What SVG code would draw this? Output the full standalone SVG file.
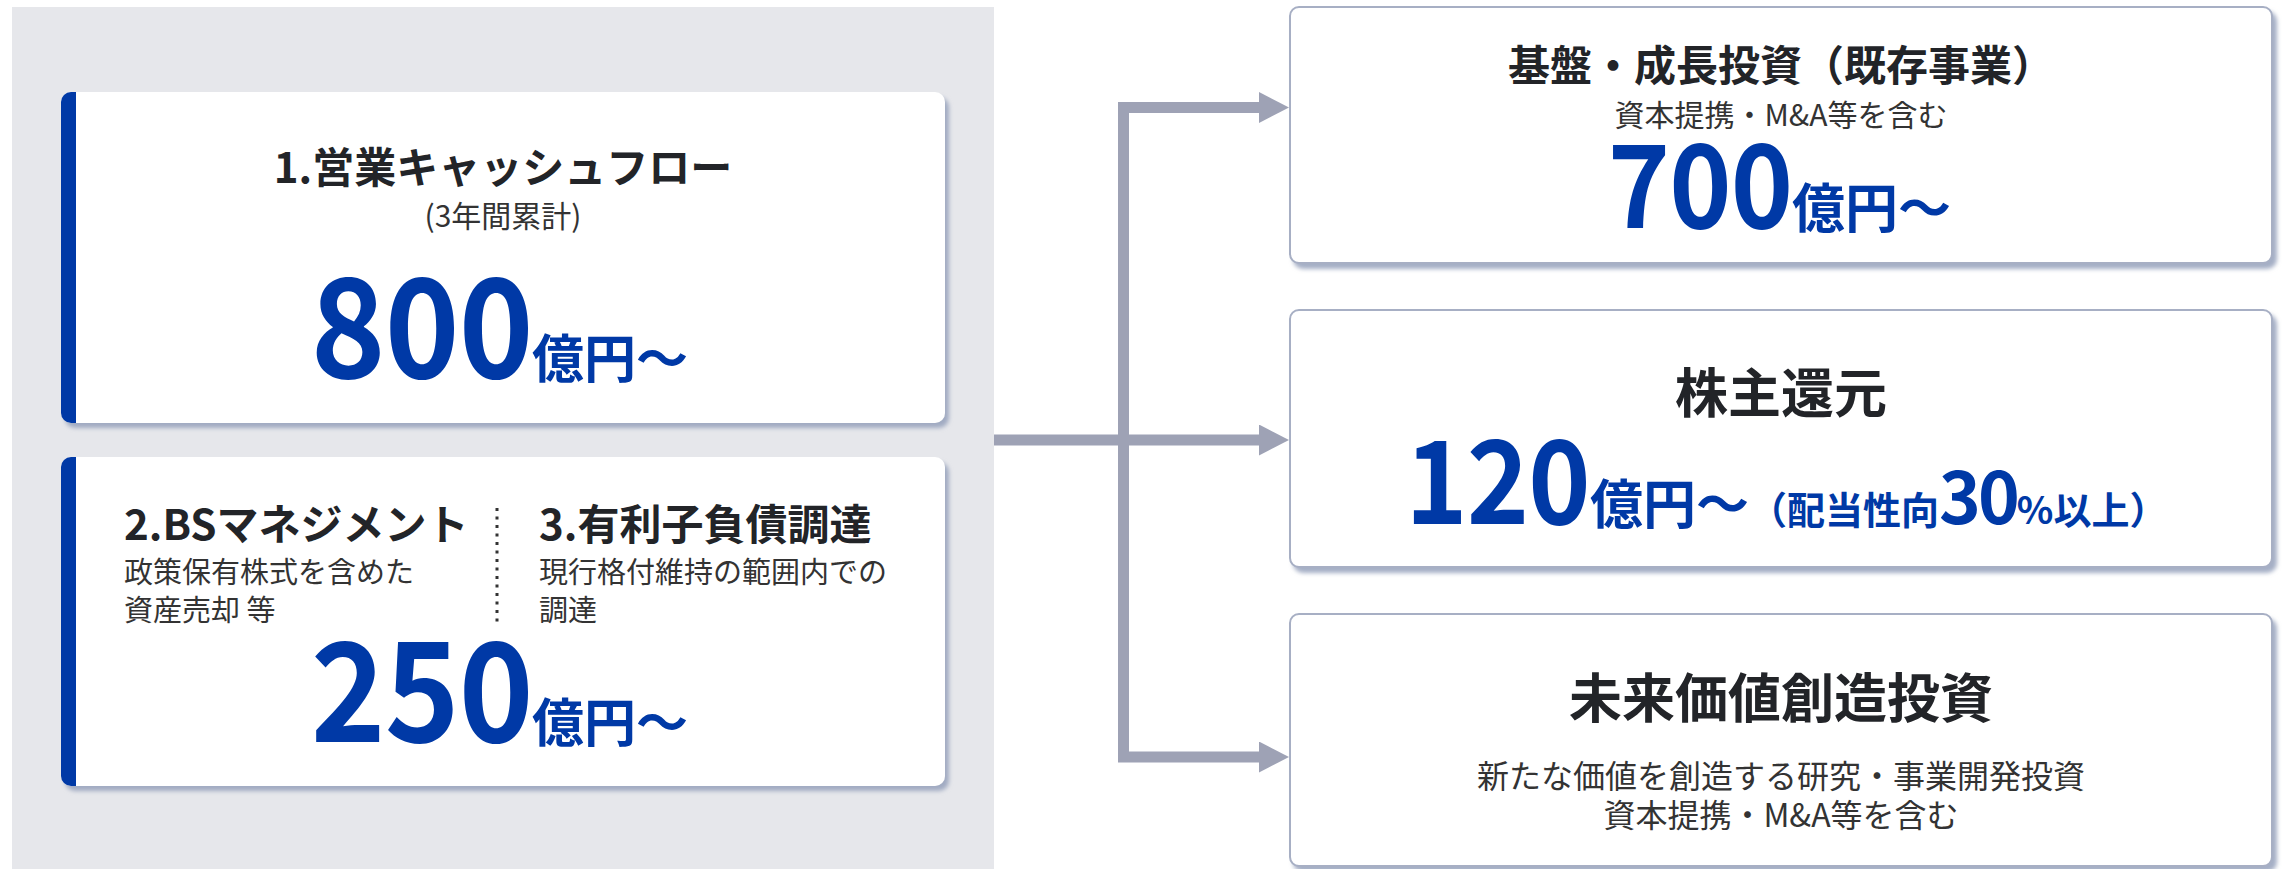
<svg xmlns="http://www.w3.org/2000/svg" width="2282" height="869" viewBox="0 0 2282 869">
<defs>
<style>
.t{font-family:"Noto Sans CJK JP","Noto Sans",sans-serif;}
.ttl{font-weight:700;fill:#222428;}
.sub{font-weight:400;fill:#333;}
.blue{font-weight:700;fill:#0039a6;}
.card{fill:#fff;filter:url(#sh);}
.box{fill:#fff;stroke:#a7afc4;stroke-width:2;filter:url(#sh);}
.bar{fill:#0039a6;}
.conn{fill:none;stroke:#9ea2b5;stroke-width:11;stroke-linejoin:miter;}
.big{font-size:138px;letter-spacing:-1px;}
.mid{font-size:115px;letter-spacing:-1px;}
</style>
<filter id="sh" x="-3%" y="-5%" width="108%" height="115%">
<feDropShadow dx="4" dy="5" stdDeviation="2" flood-color="#94a0bb" flood-opacity="0.85"/>
</filter>
<marker id="ah" markerUnits="userSpaceOnUse" markerWidth="31" markerHeight="32" refX="1" refY="15.5" orient="auto">
<path d="M0,0 L30,15.5 L0,31 Z" fill="#9ea2b5"/>
</marker>
</defs>
<rect x="0" y="0" width="2282" height="869" fill="#fff"/>
<rect id="panel" x="12" y="7" width="982" height="862" fill="#e6e7eb"/>

<g id="connectors">
<path class="conn" d="M1123.5,445 V107.5 H1260" marker-end="url(#ah)"/>
<path class="conn" d="M1123.5,435 V757 H1260" marker-end="url(#ah)"/>
<path class="conn" d="M994,440 H1260" marker-end="url(#ah)"/>
</g>

<g id="card-operating-cf">
<rect class="card" x="61" y="92" width="884" height="331" rx="10"/>
<path class="bar" d="M76,92 H71 A10,10 0 0 0 61,102 V413 A10,10 0 0 0 71,423 H76 Z"/>
<text class="t ttl" x="503" y="183" font-size="42" text-anchor="middle">1.営業キャッシュフロー</text>
<text class="t sub" x="503" y="227" font-size="30" text-anchor="middle">(3年間累計)</text>
<text class="t blue big" transform="scale(0.92,1)" x="579" y="378" text-anchor="end">800</text>
<text class="t blue" x="532" y="378" font-size="52">億円～</text>
</g>

<g id="card-bs-debt">
<rect class="card" x="61" y="457" width="884" height="329" rx="10"/>
<path class="bar" d="M76,457 H71 A10,10 0 0 0 61,467 V776 A10,10 0 0 0 71,786 H76 Z"/>
<text class="t ttl" x="124" y="540" font-size="42">2.BSマネジメント</text>
<text class="t sub" x="124" y="583" font-size="29">政策保有株式を含めた</text>
<text class="t sub" x="124" y="621" font-size="29">資産売却 等</text>
<line x1="497" y1="508" x2="497" y2="624" stroke="#333" stroke-width="3" stroke-dasharray="3 5.5"/>
<text class="t ttl" x="539" y="540" font-size="42">3.有利子負債調達</text>
<text class="t sub" x="539" y="583" font-size="29">現行格付維持の範囲内での</text>
<text class="t sub" x="539" y="621" font-size="29">調達</text>
<text class="t blue big" transform="scale(0.92,1)" x="579" y="742" text-anchor="end">250</text>
<text class="t blue" x="532" y="742" font-size="52">億円～</text>
</g>

<g id="box-base-growth">
<rect class="box" x="1290" y="7" width="982" height="256" rx="9"/>
<text class="t ttl" x="1781" y="81" font-size="42" text-anchor="middle">基盤・成長投資（既存事業）</text>
<text class="t sub" x="1781" y="126" font-size="30" text-anchor="middle">資本提携・M&amp;A等を含む</text>
<text class="t blue mid" transform="scale(0.92,1)" x="1948" y="228" text-anchor="end">700</text>
<text class="t blue" x="1792" y="228" font-size="53">億円～</text>
</g>

<g id="box-shareholder">
<rect class="box" x="1290" y="310" width="982" height="257" rx="9"/>
<text class="t ttl" x="1781" y="413" font-size="53" text-anchor="middle">株主還元</text>
<text class="t blue mid" transform="scale(0.92,1)" x="1728" y="524" text-anchor="end">120</text>
<text class="t blue" x="1590" y="524"><tspan font-size="53">億円～</tspan><tspan font-size="38">（配当性向</tspan><tspan font-size="71" letter-spacing="-3">30</tspan><tspan font-size="38">%以上）</tspan></text>
</g>

<g id="box-future">
<rect class="box" x="1290" y="614" width="982" height="252" rx="9"/>
<text class="t ttl" x="1781" y="718" font-size="53" text-anchor="middle">未来価値創造投資</text>
<text class="t sub" x="1781" y="788" font-size="32" text-anchor="middle">新たな価値を創造する研究・事業開発投資</text>
<text class="t sub" x="1781" y="827" font-size="32" text-anchor="middle">資本提携・M&amp;A等を含む</text>
</g>
</svg>
